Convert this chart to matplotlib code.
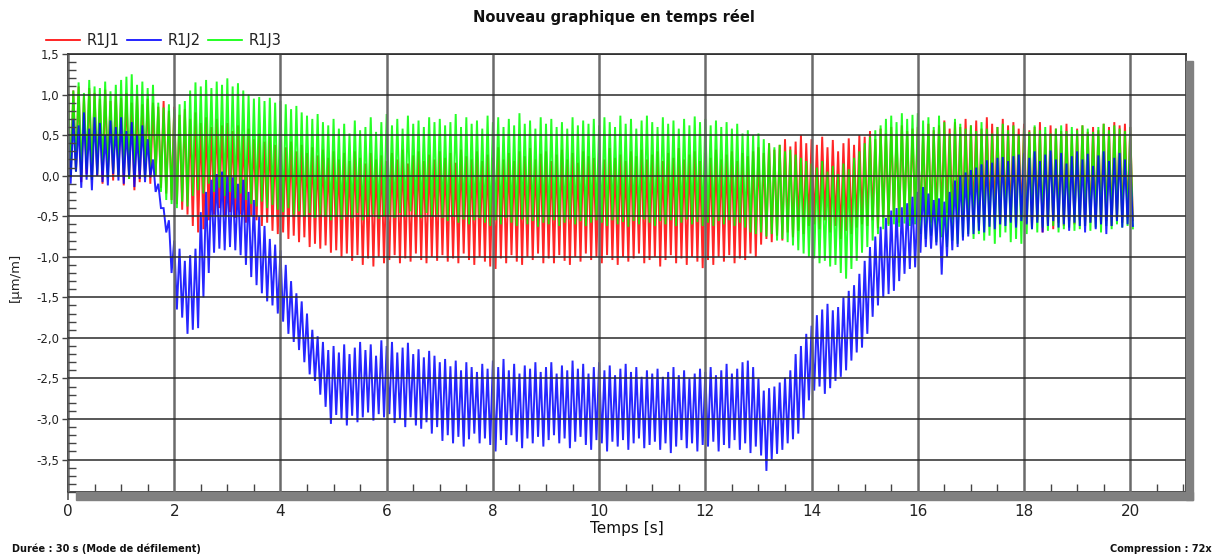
import numpy as np
import matplotlib
matplotlib.use("Agg")
import matplotlib.pyplot as plt
from matplotlib.patches import Rectangle
from matplotlib.lines import Line2D
from matplotlib.ticker import MultipleLocator, FuncFormatter

# temps de depart de chaque echantillon (pas de 0,1 s) ; le creux est a +0,05 s
t_start = 0.0
t_step = 0.1

# R1J1 (rouge) : sommets et creux
r1j1_hi = [
    1.12, 1.05, 1.10, 0.98, 1.08, 1.02, 0.95, 1.06, 0.92, 1.00,
    0.96, 1.02, 0.90, 0.98, 0.88, 0.95, 0.90, 0.85, 0.92, 0.80,
    0.85, 0.75, 0.82, 0.70, 0.78, 0.65, 0.72, 0.60, 0.70, 0.62,
    0.65, 0.55, 0.62, 0.50, 0.58, 0.45, 0.52, 0.42, 0.48, 0.38,
    0.45, 0.35, 0.42, 0.30, 0.38, 0.28, 0.35, 0.25, 0.32, 0.22,
    0.30, 0.20, 0.28, 0.18, 0.30, 0.22, 0.15, 0.28, 0.20, 0.25,
    0.18, 0.28, 0.20, 0.32, 0.15, 0.25, 0.30, 0.18, 0.26, 0.20,
    0.30, 0.22, 0.28, 0.16, 0.32, 0.24, 0.20, 0.30, 0.18, 0.26,
    0.22, 0.35, 0.20, 0.28, 0.18, 0.30, 0.24, 0.34, 0.20, 0.27,
    0.30, 0.18, 0.26, 0.32, 0.20, 0.28, 0.16, 0.30, 0.24, 0.22,
    0.28, 0.20, 0.34, 0.22, 0.26, 0.18, 0.30, 0.24, 0.32, 0.20,
    0.26, 0.30, 0.18, 0.28, 0.22, 0.34, 0.20, 0.26, 0.30, 0.18,
    0.28, 0.22, 0.32, 0.20, 0.26, 0.30, 0.18, 0.28, 0.24, 0.30,
    0.35, 0.28, 0.40, 0.32, 0.38, 0.45, 0.36, 0.42, 0.50, 0.40,
    0.45, 0.38, 0.48, 0.35, 0.44, 0.30, 0.40, 0.46, 0.38, 0.50,
    0.48, 0.55, 0.45, 0.58, 0.52, 0.60, 0.50, 0.62, 0.55, 0.58,
    0.60, 0.52, 0.64, 0.56, 0.62, 0.68, 0.58, 0.66, 0.60, 0.70,
    0.62, 0.68, 0.58, 0.72, 0.64, 0.60, 0.70, 0.62, 0.66, 0.58,
    0.64, 0.56, 0.60, 0.66, 0.52, 0.62, 0.58, 0.55, 0.64, 0.50,
    0.58, 0.62, 0.54, 0.60, 0.56, 0.64, 0.60, 0.66, 0.62, 0.64,
    0.60,
]
r1j1_lo = [
    -0.02, 0.05, -0.08, 0.02, -0.05, 0.00, -0.10, 0.03, -0.06, 0.00,
    -0.12, -0.04, -0.18, -0.08, -0.02, -0.10, 0.00, -0.15, -0.22, -0.30,
    -0.35, -0.42, -0.48, -0.62, -0.70, -0.66, -0.55, -0.48, -0.40, -0.50,
    -0.45, -0.52, -0.48, -0.58, -0.50, -0.55, -0.62, -0.58, -0.68, -0.72,
    -0.70, -0.78, -0.74, -0.82, -0.76, -0.88, -0.84, -0.90, -0.86, -0.95,
    -0.92, -1.00, -0.96, -1.05, -0.98, -1.10, -1.02, -1.12, -1.00, -1.08,
    -1.04, -0.98, -1.08, -1.02, -1.06, -0.96, -1.04, -1.08, -1.00, -1.05,
    -0.98, -1.06, -1.02, -1.08, -0.96, -1.04, -1.10, -1.00, -1.06, -1.12,
    -1.15, -1.02, -1.08, -0.98, -1.06, -1.10, -1.00, -1.04, -0.96, -1.08,
    -1.02, -1.08, -0.98, -1.05, -1.10, -1.00, -1.06, -0.96, -1.04, -1.00,
    -1.08, -0.98, -1.04, -1.10, -1.00, -1.06, -1.02, -0.96, -1.08, -1.04,
    -1.00, -1.12, -1.04, -0.98, -1.08, -1.02, -1.10, -1.00, -1.06, -1.14,
    -1.04, -1.10, -1.00, -1.06, -0.98, -1.08, -1.02, -1.04, -0.96, -1.00,
    -0.85, -0.78, -0.82, -0.74, -0.80, -0.70, -0.76, -0.68, -0.72, -0.62,
    -0.60, -0.66, -0.55, -0.70, -0.62, -0.78, -0.68, -0.72, -0.64, -0.60,
    -0.62, -0.55, -0.65, -0.52, -0.60, -0.50, -0.58, -0.48, -0.55, -0.50,
    -0.55, -0.48, -0.58, -0.50, -0.52, -0.46, -0.54, -0.50, -0.56, -0.48,
    -0.52, -0.58, -0.50, -0.55, -0.48, -0.60, -0.52, -0.56, -0.62, -0.54,
    -0.58, -0.64, -0.55, -0.70, -0.60, -0.66, -0.58, -0.62, -0.56, -0.60,
    -0.55, -0.62, -0.58, -0.52, -0.60, -0.56, -0.62, -0.54, -0.58, -0.52,
    -0.55,
]

# R1J2 (bleu)
r1j2_hi = [
    0.55, 0.70, 0.62, 0.78, 0.58, 0.72, 0.65, 0.50, 0.68, 0.60,
    0.72, 0.55, 0.66, 0.50, 0.62, 0.45, 0.20, -0.10, -0.40, -0.55,
    -0.80, -0.90, -1.05, -0.98, -0.90, -0.45, -0.20, -0.05, 0.02, 0.05,
    0.00, -0.02, -0.10, -0.05, -0.20, -0.30, -0.50, -0.62, -0.78, -0.85,
    -0.92, -1.10, -1.30, -1.45, -1.55, -1.70, -1.90, -1.98, -2.05, -2.15,
    -2.10, -2.18, -2.08, -2.20, -2.12, -2.05, -2.15, -2.08, -2.22, -2.03,
    -2.10, -2.05, -2.18, -2.12, -2.06, -2.20, -2.14, -2.24, -2.16, -2.22,
    -2.30, -2.26, -2.35, -2.28, -2.40, -2.30, -2.36, -2.42, -2.32, -2.38,
    -2.28, -2.36, -2.26, -2.40, -2.32, -2.44, -2.34, -2.38, -2.30, -2.42,
    -2.36, -2.30, -2.44, -2.34, -2.40, -2.28, -2.38, -2.32, -2.44, -2.36,
    -2.30, -2.40, -2.34, -2.46, -2.38, -2.32, -2.42, -2.36, -2.48, -2.40,
    -2.44, -2.38, -2.48, -2.42, -2.36, -2.46, -2.40, -2.50, -2.44, -2.38,
    -2.42, -2.36, -2.46, -2.40, -2.32, -2.44, -2.38, -2.30, -2.28, -2.36,
    -2.50, -2.65, -2.62, -2.60, -2.55, -2.49, -2.40, -2.20, -2.10, -1.95,
    -1.85, -1.72, -1.65, -1.58, -1.66, -1.62, -1.50, -1.42, -1.35, -1.21,
    -1.05, -0.88, -0.75, -0.63, -0.52, -0.43, -0.40, -0.39, -0.34, -0.26,
    -0.20, -0.14, -0.22, -0.30, -0.28, -0.32, -0.20, -0.06, 0.00, 0.04,
    0.07, 0.10, 0.14, 0.19, 0.16, 0.22, 0.23, 0.18, 0.24, 0.26,
    0.28, 0.22, 0.30, 0.18, 0.26, 0.31, 0.20, 0.28, 0.15, 0.24,
    0.30, 0.20, 0.27, 0.12, 0.25, 0.30, 0.18, 0.22, 0.28, 0.20,
    0.15,
]
r1j2_lo = [
    -0.10, 0.05, -0.15, -0.05, -0.18, 0.00, -0.08, -0.12, 0.02, -0.06,
    -0.10, 0.00, -0.14, -0.04, -0.08, -0.02, -0.20, -0.40, -0.70, -1.20,
    -1.65, -1.75, -1.95, -1.90, -1.88, -1.50, -1.20, -0.95, -0.90, -0.92,
    -0.88, -0.92, -0.98, -1.10, -1.25, -1.35, -1.45, -1.55, -1.60, -1.70,
    -1.80, -1.95, -2.05, -2.15, -2.30, -2.45, -2.53, -2.70, -2.85, -3.06,
    -2.95, -3.00, -3.08, -2.96, -3.04, -2.98, -2.92, -3.02, -2.94, -2.98,
    -2.94, -3.05, -3.00, -3.10, -2.98, -3.08, -3.12, -3.04, -3.18, -3.10,
    -3.27, -3.20, -3.30, -3.22, -3.34, -3.25, -3.18, -3.30, -3.24, -3.32,
    -3.40, -3.26, -3.32, -3.20, -3.28, -3.36, -3.24, -3.30, -3.22, -3.34,
    -3.26, -3.20, -3.30, -3.24, -3.36, -3.28, -3.22, -3.32, -3.38, -3.26,
    -3.30, -3.40, -3.28, -3.34, -3.26, -3.38, -3.30, -3.24, -3.36, -3.32,
    -3.28, -3.38, -3.30, -3.42, -3.34, -3.26, -3.36, -3.30, -3.40, -3.32,
    -3.34, -3.28, -3.40, -3.32, -3.36, -3.26, -3.38, -3.30, -3.42, -3.34,
    -3.45, -3.64, -3.50, -3.43, -3.38, -3.30, -3.25, -3.18, -3.00, -2.77,
    -2.65, -2.60, -2.69, -2.62, -2.53, -2.48, -2.40, -2.28, -2.18, -2.12,
    -1.95, -1.74, -1.60, -1.50, -1.46, -1.42, -1.30, -1.21, -1.15, -1.13,
    -0.95, -0.88, -0.90, -0.86, -1.22, -1.00, -0.92, -0.88, -0.80, -0.75,
    -0.72, -0.68, -0.70, -0.63, -0.66, -0.60, -0.62, -0.58, -0.64, -0.56,
    -0.60, -0.66, -0.58, -0.70, -0.62, -0.56, -0.64, -0.60, -0.68, -0.58,
    -0.62, -0.70, -0.58, -0.66, -0.60, -0.72, -0.62, -0.56, -0.64, -0.60,
    -0.62,
]

# R1J3 (vert)
r1j3_hi = [
    1.12, 1.05, 1.15, 1.02, 1.18, 1.10, 1.08, 1.16, 1.04, 1.12,
    1.18, 1.22, 1.25, 1.12, 1.16, 1.08, 1.12, 0.90, 0.84, 0.88,
    0.82, 0.88, 0.92, 1.05, 1.15, 1.10, 1.18, 1.08, 1.16, 1.12,
    1.20, 1.10, 1.14, 1.05, 1.00, 0.95, 0.97, 0.92, 0.96, 0.90,
    0.92, 0.88, 0.82, 0.86, 0.78, 0.74, 0.70, 0.76, 0.66, 0.62,
    0.70, 0.58, 0.64, 0.52, 0.68, 0.56, 0.60, 0.72, 0.54, 0.66,
    0.76, 0.62, 0.70, 0.58, 0.74, 0.64, 0.68, 0.60, 0.72, 0.66,
    0.70, 0.62, 0.66, 0.76, 0.60, 0.72, 0.64, 0.68, 0.58, 0.74,
    0.66, 0.72, 0.60, 0.70, 0.62, 0.77, 0.64, 0.68, 0.58, 0.72,
    0.64, 0.70, 0.60, 0.66, 0.58, 0.72, 0.62, 0.68, 0.64, 0.70,
    0.62, 0.72, 0.66, 0.60, 0.74, 0.64, 0.70, 0.58, 0.68, 0.74,
    0.66, 0.60, 0.72, 0.64, 0.68, 0.58, 0.70, 0.62, 0.73, 0.66,
    0.70, 0.62, 0.68, 0.60, 0.66, 0.58, 0.64, 0.52, 0.56, 0.50,
    0.52, 0.45, 0.40, 0.35, 0.38, 0.30, 0.32, 0.26, 0.22, 0.18,
    0.15, 0.10, 0.18, 0.05, 0.12, 0.02, 0.15, 0.08, 0.22, 0.30,
    0.40, 0.48, 0.56, 0.62, 0.70, 0.74, 0.66, 0.77, 0.70, 0.75,
    0.77, 0.68, 0.72, 0.60, 0.74, 0.66, 0.52, 0.70, 0.64, 0.58,
    0.62, 0.55, 0.66, 0.58, 0.52, 0.60, 0.64, 0.56, 0.62, 0.50,
    0.58, 0.54, 0.62, 0.56, 0.60, 0.52, 0.58, 0.62, 0.55, 0.60,
    0.56, 0.62, 0.58, 0.54, 0.60, 0.64, 0.56, 0.62, 0.58, 0.55,
    0.60,
]
r1j3_lo = [
    -0.02, 0.05, 0.00, 0.08, -0.05, 0.02, 0.06, -0.03, 0.04, 0.00,
    0.03, -0.04, 0.02, 0.06, -0.02, 0.04, 0.00, -0.20, -0.30, -0.35,
    -0.40, -0.32, -0.38, -0.25, -0.18, -0.22, -0.10, -0.20, -0.15, -0.25,
    -0.20, -0.28, -0.22, -0.30, -0.35, -0.38, -0.32, -0.40, -0.36, -0.42,
    -0.45, -0.40, -0.48, -0.44, -0.50, -0.46, -0.52, -0.48, -0.50, -0.55,
    -0.50, -0.54, -0.48, -0.52, -0.46, -0.55, -0.50, -0.48, -0.53, -0.50,
    -0.48, -0.52, -0.46, -0.50, -0.44, -0.48, -0.52, -0.46, -0.50, -0.48,
    -0.52, -0.56, -0.50, -0.58, -0.54, -0.60, -0.55, -0.52, -0.58, -0.62,
    -0.55, -0.60, -0.52, -0.58, -0.62, -0.54, -0.60, -0.56, -0.63, -0.58,
    -0.60, -0.55, -0.62, -0.58, -0.54, -0.60, -0.56, -0.62, -0.58, -0.55,
    -0.58, -0.62, -0.55, -0.60, -0.57, -0.63, -0.56, -0.60, -0.54, -0.58,
    -0.62, -0.56, -0.60, -0.55, -0.62, -0.58, -0.54, -0.60, -0.57, -0.62,
    -0.58, -0.62, -0.56, -0.60, -0.55, -0.62, -0.58, -0.64, -0.70, -0.72,
    -0.70, -0.75, -0.72, -0.80, -0.78, -0.82, -0.86, -0.92, -0.96, -1.00,
    -1.02, -1.08, -1.05, -1.12, -1.10, -1.20, -1.27, -1.15, -1.05, -0.95,
    -0.88, -0.80, -0.72, -0.66, -0.62, -0.60, -0.63, -0.59, -0.62, -0.60,
    -0.72, -0.78, -0.74, -0.82, -0.76, -0.88, -0.80, -0.84, -0.76, -0.72,
    -0.78, -0.72, -0.80, -0.74, -0.84, -0.76, -0.70, -0.82, -0.78, -0.84,
    -0.72, -0.66, -0.70, -0.64, -0.68, -0.62, -0.70, -0.66, -0.64, -0.68,
    -0.66, -0.62, -0.68, -0.64, -0.70, -0.62, -0.66, -0.60, -0.64, -0.62,
    -0.65,
]

series = [
    ("R1J1", r1j1_hi, r1j1_lo, "#ff0000"),
    ("R1J3", r1j3_hi, r1j3_lo, "#00ff00"),
    ("R1J2", r1j2_hi, r1j2_lo, "#0000ff"),
]
legend_items = [("R1J1", "#ff0000"), ("R1J2", "#0000ff"), ("R1J3", "#00ff00")]

W, H = 1222, 557
fig = plt.figure(figsize=(W / 100, H / 100), dpi=100)
fig.patch.set_facecolor("white")

# zone de trace en pixels : x 68..1186, y 54..492
ax = fig.add_axes([68 / W, 1 - 492 / H, (1186 - 68) / W, (492 - 54) / H])

for name, hi, lo, col in series:
    n = len(hi)
    t = t_start + np.arange(n) * t_step
    x = np.empty(2 * n)
    y = np.empty(2 * n)
    x[0::2] = t
    x[1::2] = t + t_step / 2
    y[0::2] = hi
    y[1::2] = lo
    ax.plot(x, y, color=col, lw=1.4, alpha=0.85, solid_joinstyle="miter")

ax.set_xlim(0, 21.05)
ax.set_ylim(-3.9, 1.5)

ax.xaxis.set_major_locator(MultipleLocator(2))
ax.xaxis.set_minor_locator(MultipleLocator(0.5))
ax.yaxis.set_major_locator(MultipleLocator(0.5))
ax.yaxis.set_minor_locator(MultipleLocator(0.1))
ax.yaxis.set_major_formatter(FuncFormatter(lambda v, p: f"{v:.1f}".replace(".", ",")))
ax.xaxis.set_major_formatter(FuncFormatter(lambda v, p: f"{v:.0f}"))

ax.tick_params(axis="x", which="major", direction="out", length=6, width=1.2,
               color="#555555", labelsize=11, pad=3, labelcolor="#222222")
ax.tick_params(axis="x", which="minor", direction="in", length=6, width=1, color="#444444")
ax.tick_params(axis="y", which="major", direction="out", length=4, width=1,
               color="#444444", labelsize=8.5, pad=2, labelcolor="#222222")
ax.tick_params(axis="y", which="minor", direction="in", length=6, width=1, color="#444444")

ax.set_axisbelow(False)
ax.grid(axis="y", which="major", color="#2a2a2a", lw=1.1)
ax.grid(axis="x", which="major", color="#6a6a6a", lw=1.8)

for s in ax.spines.values():
    s.set_color("#3a3a3a")
    s.set_linewidth(1.3)

ax.set_xlabel("Temps [s]", fontsize=11, labelpad=1, color="#111111")
fig.text(15 / W, 1 - 277 / H, "[µm/m]", rotation=90, ha="center", va="center",
         fontsize=9.5, color="#222222")

# ombre du cadre
fig.patches.append(Rectangle((1186 / W, 1 - 500 / H), 7 / W, (500 - 61) / H,
                             transform=fig.transFigure, color="#808080", zorder=0))
fig.patches.append(Rectangle((76 / W, 1 - 500 / H), (1193 - 76) / W, 8 / H,
                             transform=fig.transFigure, color="#808080", zorder=0))

fig.text(614 / W, 1 - 17 / H, "Nouveau graphique en temps réel", ha="center",
         va="center", fontsize=10.5, fontweight="bold", color="#111111")

# legende
lx = 46
for name, col in legend_items:
    fig.add_artist(Line2D([lx / W, (lx + 34) / W], [1 - 40 / H, 1 - 40 / H],
                          color=col, lw=1.2, transform=fig.transFigure))
    fig.text((lx + 41) / W, 1 - 40 / H, name, ha="left", va="center",
             fontsize=10.5, color="#222222")
    lx += 81

fig.text(12 / W, 1 - 549 / H, "Durée : 30 s (Mode de défilement)", ha="left",
         va="center", fontsize=7, fontweight="bold", color="#111111")
fig.text(1212 / W, 1 - 549 / H, "Compression : 72x", ha="right",
         va="center", fontsize=7, fontweight="bold", color="#111111")

fig.savefig("out.png", dpi=100)
